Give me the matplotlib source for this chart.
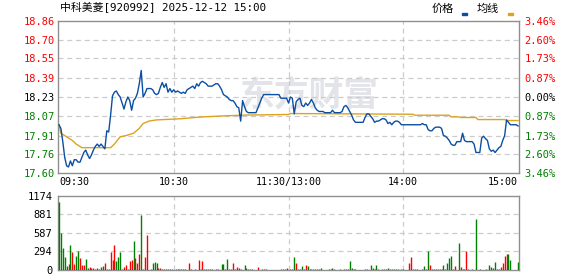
import matplotlib
matplotlib.use("Agg")
import matplotlib.pyplot as plt
from matplotlib.patches import Rectangle

plt.rcParams["font.family"] = ["DejaVu Sans Mono", "Noto Sans CJK SC"]

# ---- data (minute index from 09:30, 0..240) ----
title = "中科美菱[920992] 2025-12-12 15:00"
prev_close = 18.23

price_min = list(range(0, 241))
price = [
    18.00, 17.97, 17.86, 17.73, 17.66, 17.65, 17.70, 17.66, 17.71, 17.71,
    17.69, 17.69, 17.73, 17.77, 17.79, 17.75, 17.72, 17.75, 17.79, 17.82,
    17.84, 17.82, 17.84, 17.82, 17.80, 17.95, 17.94, 18.08, 18.24, 18.27,
    18.28, 18.25, 18.23, 18.18, 18.13, 18.19, 18.23, 18.20, 18.12, 18.20,
    18.22, 18.26, 18.34, 18.45, 18.23, 18.26, 18.30, 18.30, 18.30, 18.29,
    18.26, 18.25, 18.26, 18.31, 18.35, 18.31, 18.34, 18.27, 18.30, 18.27,
    18.29, 18.27, 18.28, 18.27, 18.26, 18.27, 18.26, 18.29, 18.30, 18.31,
    18.32, 18.30, 18.34, 18.32, 18.35, 18.36, 18.35, 18.34, 18.32, 18.32,
    18.32, 18.33, 18.34, 18.34, 18.32, 18.29, 18.25, 18.24, 18.23, 18.21,
    18.20, 18.20, 18.18, 18.15, 18.14, 18.03, 18.20, 18.15, 18.11, 18.10,
    18.10, 18.10, 18.10, 18.10, 18.14, 18.18, 18.22, 18.25, 18.25, 18.25,
    18.25, 18.25, 18.25, 18.25, 18.25, 18.25, 18.22, 18.22, 18.22, 18.22,
    18.18, 18.23, 18.22, 18.09, 18.19, 18.21, 18.22, 18.16, 18.15, 18.18,
    18.16, 18.18, 18.21, 18.18, 18.14, 18.12, 18.11, 18.11, 18.11, 18.10,
    18.10, 18.10, 18.10, 18.12, 18.10, 18.10, 18.10, 18.10, 18.11, 18.15,
    18.16, 18.14, 18.11, 18.08, 18.04, 18.02, 18.02, 18.02, 18.02, 18.02,
    18.06, 18.09, 18.09, 18.07, 18.05, 18.02, 18.03, 18.03, 18.04, 18.05,
    18.05, 18.04, 18.01, 18.02, 18.00, 18.02, 18.03, 18.03, 18.02, 18.00,
    18.00, 18.00, 18.00, 18.00, 18.00, 18.00, 18.00, 18.00, 18.00, 18.00,
    18.01, 18.00, 18.00, 17.96, 17.95, 17.95, 17.97, 17.98, 17.98, 17.98,
    17.97, 17.91, 17.905, 17.89, 17.87, 17.84, 17.83, 17.83, 17.86, 17.86,
    17.86, 17.93, 17.87, 17.86, 17.86, 17.86, 17.86, 17.84, 17.77, 17.77,
    17.77, 17.89, 17.905, 17.885, 17.87, 17.80, 17.78, 17.79, 17.77, 17.79,
    17.81, 17.82, 17.87, 17.91, 18.04, 18.02, 18.00, 18.00, 18.00, 18.00,
    17.99,
]

avg_min = [0, 1, 4, 7, 9, 11, 12, 27, 29, 32, 35, 39, 42, 44, 47, 51, 64, 71,
           75, 87, 97, 120, 121, 185, 186, 204, 205, 209, 210, 218, 219, 233,
           234, 240]
avg_price = [18.00, 17.93, 17.90, 17.87, 17.84, 17.82, 17.81, 17.81, 17.84,
             17.90, 17.91, 17.93, 17.97, 18.01, 18.03, 18.04, 18.05, 18.06,
             18.065, 18.074, 18.08, 18.085, 18.093, 18.087, 18.079, 18.079,
             18.065, 18.065, 18.06, 18.06, 18.043, 18.043, 18.035, 18.035]

# volume bars: minute, size (lots), direction (r = up, g = down)
vol_min = [
    0, 1, 2, 3, 4, 5, 6, 7, 8, 9,
    10, 11, 12, 13, 14, 15, 16, 17, 18, 19,
    20, 21, 22, 23, 24, 25, 26, 27, 28, 29,
    30, 31, 32, 33, 34, 35, 36, 37, 38, 39,
    40, 41, 42, 43, 44, 45, 46, 48, 49, 50,
    51, 52, 53, 54, 55, 56, 57, 58, 59, 61,
    62, 63, 64, 65, 66, 68, 69, 71, 73, 74,
    75, 76, 77, 78, 79, 80, 82, 83, 85, 86,
    87, 88, 89, 90, 91, 92, 93, 94, 95, 97,
    98, 99, 100, 101, 104, 106, 107, 108, 116, 117,
    118, 119, 121, 122, 123, 124, 125, 126, 127, 128,
    129, 130, 131, 132, 133, 134, 135, 136, 137, 141,
    142, 143, 144, 147, 149, 150, 151, 152, 153, 154,
    155, 160, 161, 163, 164, 165, 166, 167, 169, 170,
    171, 172, 173, 174, 175, 176, 177, 179, 180, 183,
    184, 185, 186, 187, 190, 191, 192, 193, 194, 195,
    196, 197, 198, 199, 200, 201, 202, 203, 204, 205,
    206, 207, 209, 210, 211, 212, 213, 214, 216, 218,
    220, 223, 225, 226, 227, 228, 229, 230, 231, 232,
    233, 234, 235, 236, 240,
]
vol = [
    1079, 592, 349, 201, 63, 95, 397, 291, 95, 222,
    307, 185, 79, 79, 175, 26, 53, 37, 37, 16,
    26, 16, 42, 63, 116, 16, 16, 291, 159, 397,
    143, 212, 291, 21, 53, 79, 16, 148, 159, 460,
    196, 116, 254, 873, 16, 212, 555, 16, 106, 132,
    106, 26, 37, 16, 16, 16, 16, 16, 16, 16,
    16, 16, 16, 16, 16, 116, 16, 16, 159, 16,
    143, 16, 16, 16, 16, 16, 16, 16, 95, 95,
    16, 175, 16, 16, 116, 16, 42, 26, 16, 79,
    26, 16, 16, 16, 42, 16, 16, 16, 16, 16,
    16, 26, 16, 16, 206, 106, 16, 16, 63, 16,
    79, 63, 16, 16, 16, 16, 16, 16, 32, 16,
    16, 32, 16, 16, 16, 16, 16, 148, 37, 16,
    16, 16, 16, 79, 26, 16, 79, 16, 16, 16,
    16, 32, 16, 16, 16, 16, 16, 16, 16, 116,
    206, 16, 16, 16, 16, 63, 16, 301, 79, 16,
    16, 16, 16, 16, 16, 79, 16, 116, 190, 222,
    16, 63, 428, 42, 16, 16, 301, 16, 16, 809,
    16, 16, 79, 42, 26, 127, 16, 16, 42, 106,
    222, 254, 254, 159, 127,
]
vol_dir = "".join([
    "gggggrgrrg", "grrrggrrrr", "rgggrggrrr", "ggggrrgrrg", "rrrgrrrrgg",
    "grrggggggg", "gggrgrggrr", "rrrrrrrrgg", "rgrrrgrrrg", "ggrgrrrrgg",
    "grrrgrgrgr", "rgrrgggggr", "rgrrrgrggr", "rrrggrgrrr", "rgggrrrrrr",
    "rrrrrgggrr", "rrrrrgrggg", "rrgrggrrrg", "rrggggrrrr", "rrggg",
])

price_ticks = [18.86, 18.70, 18.55, 18.39, 18.23, 18.07, 17.91, 17.76, 17.60]
pct_labels = ["3.46%", "2.60%", "1.73%", "0.87%", "0.00%",
              "0.87%", "1.73%", "2.60%", "3.46%"]
vol_ticks = [0, 294, 587, 881, 1174]
time_ticks = [0, 60, 120, 180, 240]
time_labels = ["09:30", "10:30", "11:30/13:00", "14:00", "15:00"]

RED = "#ff0000"
GREEN = "#008000"
BLUE = "#0b4fa2"
GOLD = "#dca31f"
FRAME = "#8f8f8f"
GRID = "#cccccc"

W, H = 578, 276
fig = plt.figure(figsize=(W / 100, H / 100), dpi=100)


def fx(px):
    return px / W


def fy(py):
    return 1 - py / H


def style_axes(ax):
    for s in ax.spines.values():
        s.set_color(FRAME)
        s.set_linewidth(1.0)
    ax.tick_params(length=0, labelsize=7.5)
    ax.set_xlim(-0.5, 240.5)
    ax.set_axisbelow(True)


def add_grid(ax, xs, ys):
    for x in xs:
        ax.axvline(x, color=GRID, linestyle=(0, (4, 3)), linewidth=0.9, zorder=1)
    for y in ys:
        ax.axhline(y, color=GRID, linestyle=(0, (4, 3)), linewidth=0.9, zorder=1)


# ---- price panel ----
ax = fig.add_axes([fx(58), fy(173), fx(519) - fx(58), fy(21) - fy(173)])
style_axes(ax)
ax.set_ylim(price_ticks[-1], price_ticks[0])
ax.set_yticks(price_ticks)
ax.set_yticklabels([f"{v:.2f}" for v in price_ticks])
for v, lab in zip(price_ticks, ax.get_yticklabels()):
    lab.set_color(RED if v > prev_close else (GREEN if v < prev_close else "black"))
ax.tick_params(axis="y", pad=2)
ax.set_xticks(time_ticks)
ax.set_xticklabels(time_labels)
ax.tick_params(axis="x", pad=3, labelsize=7.2)
xl = ax.get_xticklabels()
xl[0].set_ha("left")
xl[-1].set_ha("right")
add_grid(ax, time_ticks[1:-1], price_ticks[1:-1])

ax.text(0.545, 0.51, "东方财富", transform=ax.transAxes, ha="center",
        va="center", fontsize=25, fontweight="bold", color="#e3e3ea",
        family="Noto Sans CJK SC", zorder=0)

ax.plot(avg_min, avg_price, color=GOLD, linewidth=1.0, zorder=3)
ax.plot(price_min, price, color=BLUE, linewidth=1.0, zorder=4)

ax2 = ax.twinx()
ax2.set_ylim(ax.get_ylim())
ax2.set_yticks(price_ticks)
ax2.set_yticklabels(pct_labels)
for v, lab in zip(price_ticks, ax2.get_yticklabels()):
    lab.set_color(RED if v > prev_close else (GREEN if v < prev_close else "black"))
ax2.tick_params(length=0, labelsize=7.5, pad=4)
for s in ax2.spines.values():
    s.set_visible(False)

# ---- volume panel ----
axv = fig.add_axes([fx(58), fy(270), fx(519) - fx(58), fy(196) - fy(270)])
style_axes(axv)
axv.set_ylim(0, vol_ticks[-1])
axv.set_yticks(vol_ticks)
axv.set_xticks([])
axv.tick_params(axis="y", pad=4)
add_grid(axv, time_ticks[1:-1], vol_ticks[1:-1])
bar_colors = [RED if c == "r" else GREEN for c in vol_dir]
axv.vlines(vol_min, 0, vol, colors=bar_colors, linewidth=1.0, zorder=3)

# ---- header ----
fig.text(fx(60), fy(8), title, fontsize=7.8, va="center", ha="left")
fig.text(fx(432), fy(9), "价格", fontsize=8, va="center", ha="left",
         family="Noto Sans CJK SC")
fig.text(fx(477), fy(9), "均线", fontsize=8, va="center", ha="left",
         family="Noto Sans CJK SC")
fig.add_artist(Rectangle((fx(462), fy(15)), fx(5), 2 / H, color=BLUE,
                         transform=fig.transFigure))
fig.add_artist(Rectangle((fx(508), fy(15)), fx(5), 2 / H, color=GOLD,
                         transform=fig.transFigure))

fig.savefig("out.png", dpi=100)
